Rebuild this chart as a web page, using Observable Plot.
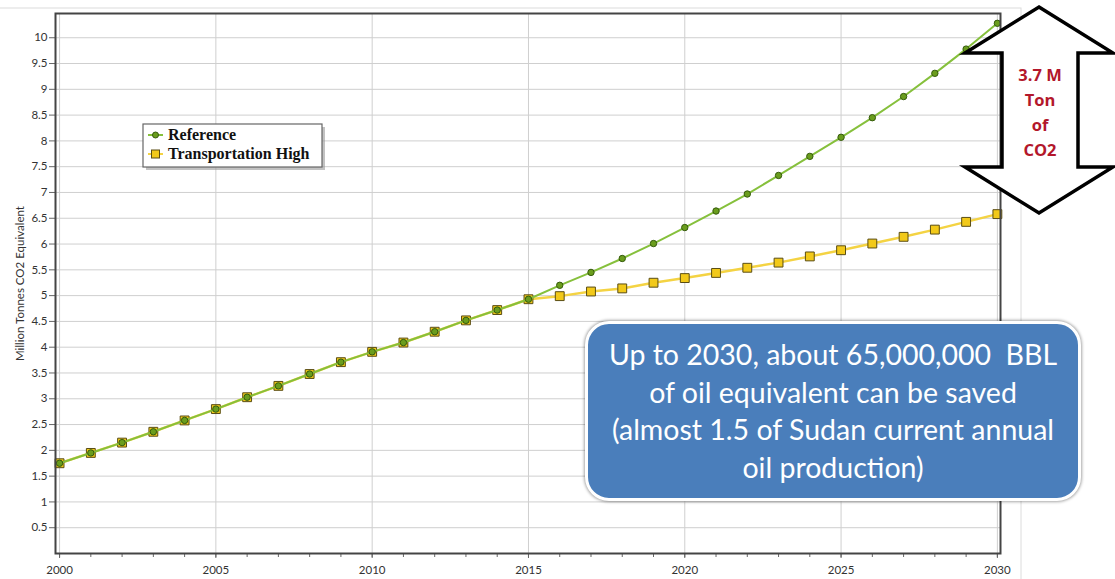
<!DOCTYPE html>
<html><head><meta charset="utf-8">
<script src="https://cdn.jsdelivr.net/npm/d3@7"></script>
<script src="https://cdn.jsdelivr.net/npm/@observablehq/plot@0.6"></script>
<style>
body{margin:0;background:#fff;}
#wrap{position:relative;width:1115px;height:579px;overflow:hidden;}
#callout{position:absolute;left:585px;top:321px;width:490px;height:174px;border-radius:24px;background:#4a7ebb;border:3px solid #fff;box-shadow:0 0 3px 1px rgba(0,0,0,0.35);color:#fff;font-family:Lato,"Open Sans",sans-serif;font-size:28.5px;line-height:37.5px;text-align:center;display:flex;align-items:center;justify-content:center;white-space:nowrap;}
</style></head><body><div id="wrap"><div id="callout"></div></div>
<script>
const years = [2000,2001,2002,2003,2004,2005,2006,2007,2008,2009,2010,2011,2012,2013,2014,2015,2016,2017,2018,2019,2020,2021,2022,2023,2024,2025,2026,2027,2028,2029,2030];
const reference = [1.75,1.95,2.15,2.36,2.58,2.80,3.03,3.25,3.48,3.71,3.91,4.09,4.30,4.52,4.72,4.93,5.20,5.45,5.72,6.01,6.32,6.64,6.97,7.33,7.70,8.07,8.45,8.86,9.31,9.78,10.28];
const transport = [1.75,1.95,2.15,2.36,2.58,2.80,3.03,3.25,3.48,3.71,3.91,4.09,4.30,4.52,4.72,4.93,4.99,5.08,5.14,5.25,5.34,5.44,5.54,5.64,5.76,5.88,6.01,6.14,6.28,6.43,6.58];
const majorYears = [2000,2005,2010,2015,2020,2025,2030];
const yTicks = [0.5,1,1.5,2,2.5,3,3.5,4,4.5,5,5.5,6,6.5,7,7.5,8,8.5,9,9.5,10];
const seriesNames = ["Reference","Transportation High"];
const yLabel = "Million Tonnes CO2 Equivalent";
const arrowText = ["3.7 M","Ton","of","CO2"];
const calloutLines = ["Up to 2030, about 65,000,000\u00a0 BBL","of oil equivalent can be saved","(almost 1.5 of Sudan current annual","oil production)"];

const data = years.map((year,i)=>({year, reference: reference[i], transport: transport[i]}));

const chart = Plot.plot({
  width:1115, height:579, marginLeft:55, marginRight:115, marginTop:13, marginBottom:26,
  style:{fontFamily:"Lato, 'Open Sans', sans-serif", fontSize:"11.5px", color:"#333", background:"transparent", overflow:"visible"},
  x:{domain:[1999.87, 2030.1]},
  y:{domain:[0, 10.47]},
  marks:[
    Plot.gridY(yTicks,{stroke:"#cfcfcf", strokeOpacity:1}),
    Plot.gridX(majorYears,{stroke:"#cfcfcf", strokeOpacity:1}),
    Plot.axisY(yTicks,{tickSize:6, tickPadding:2, stroke:"#666", tickFormat:d=>String(d), label:yLabel, labelAnchor:"center", labelArrow:"none", labelOffset:40}),
    Plot.axisX(years,{tickSize:4, stroke:"#666", tickFormat:()=>"", label:null}),
    Plot.axisX(majorYears,{tickSize:5, tickPadding:7, stroke:"#666", tickFormat:d=>String(d), label:null}),
    Plot.line(data,{x:"year", y:"transport", stroke:"#f4d343", strokeWidth:2.5}),
    Plot.dot(data,{x:"year", y:"transport", symbol:"square", r:5, fill:"#f2c919", stroke:"#5a4d14", strokeWidth:1}),
    Plot.line(data,{x:"year", y:"reference", stroke:"#86c03c", strokeWidth:2}),
    Plot.dot(data,{x:"year", y:"reference", r:3.2, fill:"#6a9d1d", stroke:"#355a0c", strokeWidth:1}),
    Plot.frame({stroke:"#444", strokeWidth:2})
  ]
});
document.getElementById("wrap").prepend(chart);
chart.style.position="absolute"; chart.style.left="0"; chart.style.top="0";

const svg = d3.select(chart);
// outer panel border
svg.insert("rect",":first-child").attr("x",-2).attr("y",8).attr("width",1023).attr("height",600)
  .attr("fill","none").attr("stroke","#dcdcdc").attr("stroke-width",1);

// legend
const lg = svg.append("g").attr("text-anchor","start");
lg.append("rect").attr("x",146).attr("y",127).attr("width",179).attr("height",43).attr("fill","#9a9a9a").attr("opacity",0.6);
lg.append("rect").attr("x",143).attr("y",124).attr("width",179).attr("height",43).attr("fill","#fff").attr("stroke","#666").attr("stroke-width",1.2);
const rows = [{name:seriesNames[0], y:135, line:"#86c03c", fill:"#6a9d1d", stroke:"#355a0c", sym:"circle"},
              {name:seriesNames[1], y:154, line:"#f4d343", fill:"#f2c919", stroke:"#5a4d14", sym:"square"}];
rows.forEach(r=>{
  lg.append("line").attr("x1",148).attr("x2",163).attr("y1",r.y).attr("y2",r.y).attr("stroke",r.line).attr("stroke-width",2);
  if(r.sym==="circle") lg.append("circle").attr("cx",155.5).attr("cy",r.y).attr("r",3).attr("fill",r.fill).attr("stroke",r.stroke);
  else lg.append("rect").attr("x",151.5).attr("y",r.y-4).attr("width",8).attr("height",8).attr("fill",r.fill).attr("stroke",r.stroke);
  lg.append("text").attr("x",168).attr("y",r.y+5).attr("text-anchor","start").text(r.name)
    .attr("font-family","'Liberation Serif', 'DejaVu Serif', serif").attr("font-weight","bold").attr("font-size","16px").attr("fill","#111");
});

// double arrow
const ag = svg.append("g");
ag.append("path").attr("d","M1039,7 L1113,53 L1078,53 L1078,167 L1113,167 L1039,213 L965,167 L1002,167 L1002,53 L965,53 Z")
  .attr("fill","#fff").attr("stroke","#000").attr("stroke-width",3.5).attr("stroke-linejoin","miter");
arrowText.forEach((t,i)=>{
  ag.append("text").attr("x",1040).attr("y",81+i*25).attr("text-anchor","middle").text(t)
    .attr("font-family","'Open Sans', Lato, sans-serif").attr("font-weight","bold").attr("font-size","16.5px").attr("fill","#b3172b");
});

document.getElementById("callout").innerHTML = "<div>"+calloutLines.join("<br>")+"</div>";
</script>
</body></html>
